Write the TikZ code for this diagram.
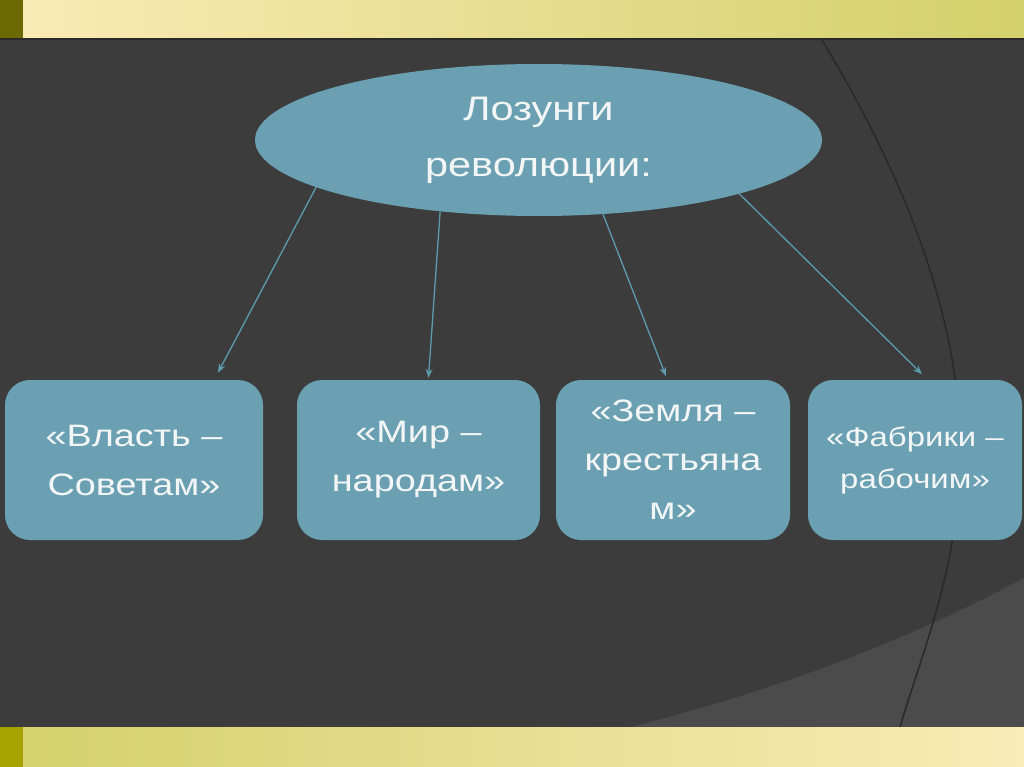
\documentclass[tikz,border=0pt]{standalone}
\usepackage{fontspec}
\setmainfont[FakeStretch=1.22]{Liberation Sans}
\usetikzlibrary{arrows.meta,shapes.geometric}
\definecolor{slidebg}{HTML}{3C3C3C}
\definecolor{slideshade}{HTML}{4B4B4B}
\definecolor{slideline}{HTML}{2A2A2A}
\definecolor{bandpale}{HTML}{FBEBB7}
\definecolor{bandgreen}{HTML}{D4D06B}
\definecolor{olivedark}{HTML}{6C6900}
\definecolor{olivelight}{HTML}{A6A300}
\definecolor{teal}{HTML}{6AA0B2}
\definecolor{arrteal}{HTML}{5E9BAE}
\definecolor{textwhite}{HTML}{F3F6F6}

\begin{document}
\begin{tikzpicture}[x=1pt, y=-1pt, box/.style={fill=teal, rounded corners=25pt, align=center, minimum height=160pt, inner sep=2pt, text=textwhite, font=\fontsize{31}{49}\selectfont}, oval/.style={ellipse, fill=teal, align=center, minimum width=567pt, minimum height=152pt, inner sep=0pt, text=textwhite, font=\fontsize{34}{54}\selectfont}, arr/.style={-{Stealth[length=9pt, width=7pt]}, arrteal, line width=1.3pt}]
\useasboundingbox (0,0) rectangle (1024,767);
% slide background
\fill[slidebg] (0,38) rectangle (1024,727);
\fill[slideshade] (630,727) .. controls (760,695) and (900,645) .. (1024,578) -- (1024,727) -- cycle;
\draw[slideline, line width=1.6pt] (822,40) .. controls (1039,401) and (947,570) .. (900,727);
\shade[left color=bandpale, right color=bandgreen] (0,0) rectangle (1024,38);
\fill[olivedark] (0,0) rectangle (23,38);
\draw[slideline, line width=2pt] (0,39) -- (1024,39);
\shade[left color=bandgreen, right color=bandpale] (0,727) rectangle (1024,767);
\fill[olivelight] (0,727) rectangle (23,767);
% slogans
\node[oval] (head) at (538.5,140) {\raisebox{2pt}{Лозунги}\\революции:};
\node[box, minimum width=258pt] (soviets) at (134,460) {«Власть –\\Советам»};
\node[box, minimum width=243pt] (peace) at (418.5,460) {«Мир –\\народам»};
\node[box, minimum width=234pt] (land) at (673,460) {«Земля –\\крестьяна\\м»};
\node[box, minimum width=214pt, font=\fontsize{27}{42}\selectfont] (factories) at (915,460) {«Фабрики –\\рабочим»};
\draw[arr, shorten >=8pt] (head.192) -- (soviets.45);
\draw[arr, shorten >=2pt] (head.216) -- (peace.83);
\draw[arr, shorten >=4pt] (head.311) -- (land.94);
\draw[arr, shorten >=8pt] (head.345) -- (factories.81);
\end{tikzpicture}
\end{document}
